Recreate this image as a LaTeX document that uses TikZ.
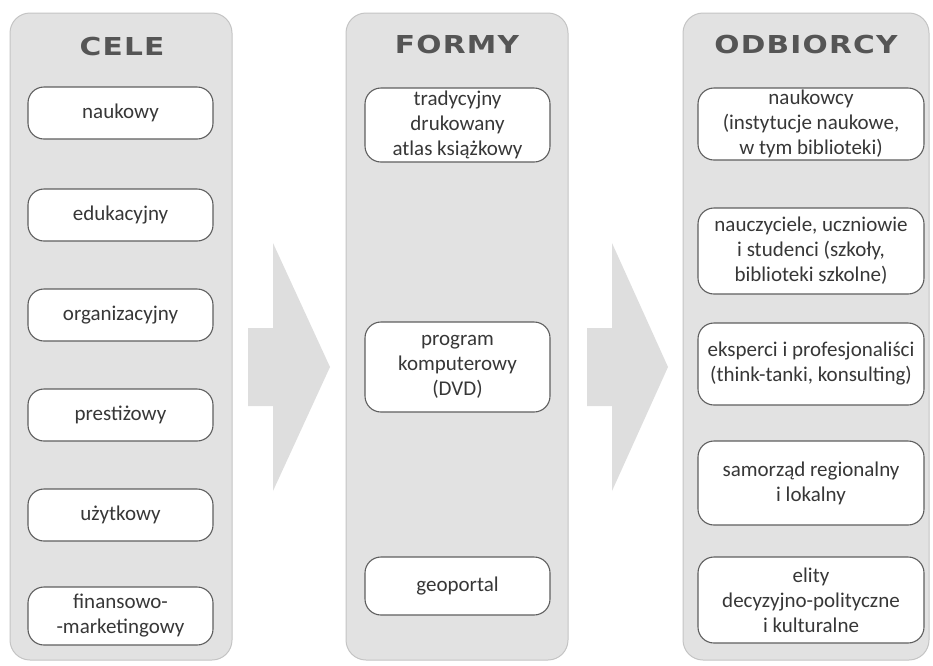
\documentclass[tikz,border=0pt]{standalone}
\usepackage{fontspec}
\setmainfont{Carlito}
\newfontfamily\titlefont[FakeStretch=1.2, LetterSpace=5]{DejaVu Sans}

\begin{document}
\begin{tikzpicture}[x=1pt, y=-1pt,
  column/.style={draw=colborder, fill=colfill, line width=1pt, rounded corners=20pt, minimum height=647pt},
  header/.style={text=titlegray, font=\titlefont\bfseries\fontsize{24.7}{28}\selectfont},
  item/.style={draw=boxborder, fill=white, line width=1.1pt, rounded corners=16pt, text=textgray, align=center, inner sep=0pt, font=\fontsize{21}{25}\selectfont},
  blockarrow/.style={fill=arrowfill}]

\definecolor{colfill}{RGB}{226, 226, 226}
\definecolor{colborder}{RGB}{196, 196, 196}
\definecolor{arrowfill}{RGB}{222, 222, 222}
\definecolor{titlegray}{RGB}{85, 85, 85}
\definecolor{boxborder}{RGB}{95, 95, 95}
\definecolor{textgray}{RGB}{55, 55, 55}

% Fix page size
\useasboundingbox (0,0) rectangle (933,665);

% CELE (goals)
\node[column, minimum width=222pt] (cele) at (121,336.5) {};
\node[header] (celeT) at (122,47) {CELE};
\begin{scope}[every node/.style={item, minimum width=185pt, minimum height=52pt}]
\node (naukowy) at (120.5,113) {naukowy};
\node (edukacyjny) at (120.5,215) {edukacyjny};
\node (organizacyjny) at (120.5,315) {organizacyjny};
\node (prestizowy) at (120.5,415) {prestiżowy};
\node (uzytkowy) at (120.5,515) {użytkowy};
\node[minimum height=58pt] (finansowy) at (120.5,616) {finansowo-\\-marketingowy};
\end{scope}

% Arrow CELE -> FORMY
\fill[blockarrow] (248,328) -- (273,328) -- (273,243) -- (330,367) -- (273,491) -- (273,406) -- (248,406) -- cycle;

% FORMY (forms)
\node[column, minimum width=222pt] (formy) at (457,336.5) {};
\node[header] (formyT) at (457,45) {FORMY};
\begin{scope}[every node/.style={item, minimum width=185pt}]
\node[minimum height=74pt] (atlas) at (457.5,125) {tradycyjny\\drukowany\\atlas książkowy};
\node[minimum height=90pt] (program) at (457.5,367) {program\\komputerowy\\(DVD)};
\node[minimum height=58pt] (geoportal) at (457.5,586) {geoportal};
\end{scope}

% Arrow FORMY -> ODBIORCY
\fill[blockarrow] (587,328) -- (612,328) -- (612,243) -- (668,367) -- (612,491) -- (612,406) -- (587,406) -- cycle;

% ODBIORCY (recipients)
\node[column, minimum width=246pt] (odbiorcy) at (806,336.5) {};
\node[header] (odbiorcyT) at (806,45) {ODBIORCY};
\begin{scope}[every node/.style={item, minimum width=226pt}]
\node[minimum height=72pt] (naukowcy) at (811,124) {naukowcy\\(instytucje naukowe,\\w tym biblioteki)};
\node[minimum height=86pt] (nauczyciele) at (811,251) {nauczyciele, uczniowie\\i studenci (szkoły,\\biblioteki szkolne)};
\node[minimum height=82pt] (eksperci) at (811,364) {eksperci i profesjonaliści\\(think-tanki, konsulting)};
\node[minimum height=84pt] (samorzad) at (811,483) {samorząd regionalny\\i lokalny};
\node[minimum height=86pt] (elity) at (811,600) {elity\\decyzyjno-polityczne\\i kulturalne};
\end{scope}

\end{tikzpicture}
\end{document}
